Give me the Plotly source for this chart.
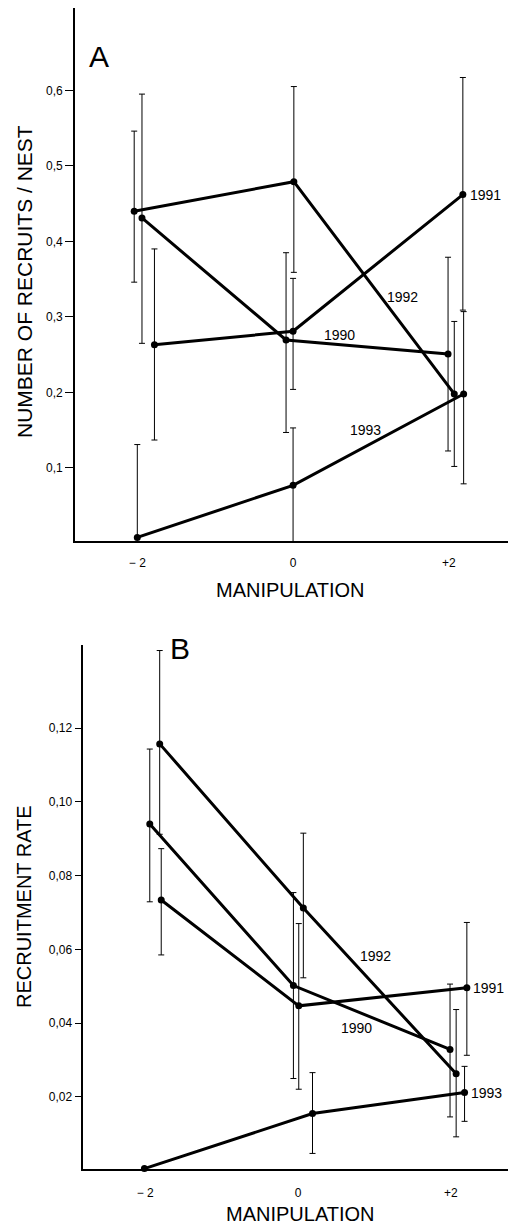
import plotly.graph_objects as go

# ---------------- data ----------------
years = ["1990", "1991", "1992", "1993"]

# Panel A: number of recruits / nest
a_x_1990 = [-1.94, -0.09, 1.99]
a_y_1990 = [0.431, 0.2695, 0.251]
a_hi_1990 = [0.595, 0.385, 0.379]
a_lo_1990 = [0.265, 0.147, 0.1225]

a_x_1991 = [-1.78, 0.00, 2.18]
a_y_1991 = [0.263, 0.281, 0.462]
a_hi_1991 = [0.390, 0.351, 0.617]
a_lo_1991 = [0.137, 0.204, 0.309]

a_x_1992 = [-2.04, 0.01, 2.07]
a_y_1992 = [0.440, 0.479, 0.198]
a_hi_1992 = [0.546, 0.605, 0.294]
a_lo_1992 = [0.346, 0.359, 0.102]

a_x_1993 = [-2.00, 0.00, 2.19]
a_y_1993 = [0.008, 0.077, 0.198]
a_hi_1993 = [0.131, 0.153, 0.307]
a_lo_1993 = [0.008, 0.000, 0.079]

# Panel B: recruitment rate
b_x_1990 = [-1.94, -0.06, 1.99]
b_y_1990 = [0.0940, 0.0502, 0.0329]
b_hi_1990 = [0.1143, 0.0754, 0.0506]
b_lo_1990 = [0.0729, 0.0250, 0.0146]

b_x_1991 = [-1.79, 0.01, 2.21]
b_y_1991 = [0.0734, 0.0447, 0.0496]
b_hi_1991 = [0.0873, 0.0670, 0.0673]
b_lo_1991 = [0.0585, 0.0221, 0.0313]

b_x_1992 = [-1.81, 0.07, 2.07]
b_y_1992 = [0.1157, 0.0712, 0.0263]
b_hi_1992 = [0.1410, 0.0915, 0.0437]
b_lo_1992 = [0.0912, 0.0523, 0.0092]

b_x_1993 = [-2.01, 0.19, 2.18]
b_y_1993 = [0.0006, 0.0155, 0.0212]
b_hi_1993 = [0.0006, 0.0266, 0.0283]
b_lo_1993 = [0.0006, 0.0047, 0.0134]

x_tickvals = [-2, 0, 2]
x_ticktext = ["− 2", "0", "+2"]
a_tickvals = [0.1, 0.2, 0.3, 0.4, 0.5, 0.6]
a_ticktext = ["0,1", "0,2", "0,3", "0,4", "0,5", "0,6"]
b_tickvals = [0.02, 0.04, 0.06, 0.08, 0.10, 0.12]
b_ticktext = ["0,02", "0,04", "0,06", "0,08", "0,10", "0,12"]

# label positions (data coords) for the year labels
a_lab = {"1991": (2.25, 0.462, "left"), "1992": (1.41, 0.327, "center"),
         "1990": (0.60, 0.276, "center"), "1993": (0.93, 0.150, "center")}
b_lab = {"1991": (2.27, 0.0496, "left"), "1993": (2.24, 0.0212, "left"),
         "1992": (1.01, 0.0583, "center"), "1990": (0.77, 0.0388, "center")}

panel_a = {
    "1990": (a_x_1990, a_y_1990, a_hi_1990, a_lo_1990),
    "1991": (a_x_1991, a_y_1991, a_hi_1991, a_lo_1991),
    "1992": (a_x_1992, a_y_1992, a_hi_1992, a_lo_1992),
    "1993": (a_x_1993, a_y_1993, a_hi_1993, a_lo_1993),
}
panel_b = {
    "1990": (b_x_1990, b_y_1990, b_hi_1990, b_lo_1990),
    "1991": (b_x_1991, b_y_1991, b_hi_1991, b_lo_1991),
    "1992": (b_x_1992, b_y_1992, b_hi_1992, b_lo_1992),
    "1993": (b_x_1993, b_y_1993, b_hi_1993, b_lo_1993),
}

FONT = "Liberation Sans, Arial, sans-serif"
W, H = 508, 1220
OFF = 8  # page body margin


def px(x):
    return (x - OFF) / W


def py(y):
    return 1 - (y - OFF) / H


fig = go.Figure()


def add_panel(data, xa, ya):
    for yr in years:
        xs, ys, hi, lo = data[yr]
        plus = [max(h - v, 0) for h, v in zip(hi, ys)]
        minus = [max(v - l, 0) for l, v in zip(lo, ys)]
        fig.add_trace(go.Scatter(
            x=xs, y=ys, mode="lines+markers", name=yr,
            xaxis=xa, yaxis=ya, showlegend=False, cliponaxis=False,
            line=dict(color="black", width=3),
            marker=dict(color="black", size=7),
            error_y=dict(type="data", symmetric=False, array=plus,
                         arrayminus=minus, color="black", thickness=1,
                         width=3),
        ))


add_panel(panel_a, "x", "y")
add_panel(panel_b, "x2", "y2")

axis_common = dict(showline=True, linecolor="black", linewidth=1.6,
                   showgrid=False, zeroline=False, mirror=False,
                   automargin=False,
                   tickfont=dict(family=FONT, size=12, color="black"))

fig.update_layout(
    width=W, height=H,
    margin=dict(l=0, r=0, t=0, b=0),
    paper_bgcolor="white", plot_bgcolor="white",
    showlegend=False,
    xaxis=dict(domain=[px(75), 1], range=[-2.80, 2.967 - 8 / 76.5],
               tickvals=x_tickvals, ticktext=x_ticktext,
               ticks="outside", ticklen=10, tickcolor="rgba(0,0,0,0)",
               anchor="y", **axis_common),
    yaxis=dict(domain=[py(541), py(8)], range=[0.0033, 0.709],
               tickvals=a_tickvals, ticktext=a_ticktext,
               ticks="outside", ticklen=8, tickwidth=1, tickcolor="black",
               anchor="x", **axis_common),
    xaxis2=dict(domain=[px(83.3), 1], range=[-2.81, 2.96 - 8 / 75],
                tickvals=x_tickvals, ticktext=x_ticktext,
                ticks="outside", ticklen=11, tickcolor="rgba(0,0,0,0)",
                anchor="y2", **axis_common),
    yaxis2=dict(domain=[py(1169.3), py(645)], range=[0.0004, 0.1425],
                tickvals=b_tickvals, ticktext=b_ticktext,
                ticks="outside", ticklen=7, tickwidth=1, tickcolor="black",
                anchor="x2", **axis_common),
)

ann = []
# year labels
for yr, (lx, ly, al) in a_lab.items():
    ann.append(dict(x=lx, y=ly, xref="x", yref="y", text=yr, showarrow=False,
                    xanchor=al, yanchor="middle",
                    font=dict(family=FONT, size=14, color="black")))
for yr, (lx, ly, al) in b_lab.items():
    ann.append(dict(x=lx, y=ly, xref="x2", yref="y2", text=yr, showarrow=False,
                    xanchor=al, yanchor="middle",
                    font=dict(family=FONT, size=14, color="black")))

# panel letters
ann.append(dict(x=px(99), y=py(57), xref="paper", yref="paper", text="A",
                showarrow=False, xanchor="center", yanchor="middle",
                font=dict(family=FONT, size=30, color="black")))
ann.append(dict(x=px(180), y=py(648), xref="paper", yref="paper", text="B",
                showarrow=False, xanchor="center", yanchor="middle",
                font=dict(family=FONT, size=30, color="black")))

# axis titles
ann.append(dict(x=px(24), y=py(282), xref="paper", yref="paper",
                text="NUMBER OF RECRUITS / NEST", textangle=-90, showarrow=False,
                xanchor="center", yanchor="middle",
                font=dict(family=FONT, size=21, color="black")))
ann.append(dict(x=px(290), y=py(590), xref="paper", yref="paper",
                text="MANIPULATION", showarrow=False,
                xanchor="center", yanchor="middle",
                font=dict(family=FONT, size=20, color="black")))
ann.append(dict(x=px(24), y=py(907), xref="paper", yref="paper",
                text="RECRUITMENT RATE", textangle=-90, showarrow=False,
                xanchor="center", yanchor="middle",
                font=dict(family=FONT, size=20, color="black")))
ann.append(dict(x=px(300), y=py(1214), xref="paper", yref="paper",
                text="MANIPULATION", showarrow=False,
                xanchor="center", yanchor="middle",
                font=dict(family=FONT, size=20, color="black")))

fig.update_layout(annotations=ann)

fig.write_html("out.html")
